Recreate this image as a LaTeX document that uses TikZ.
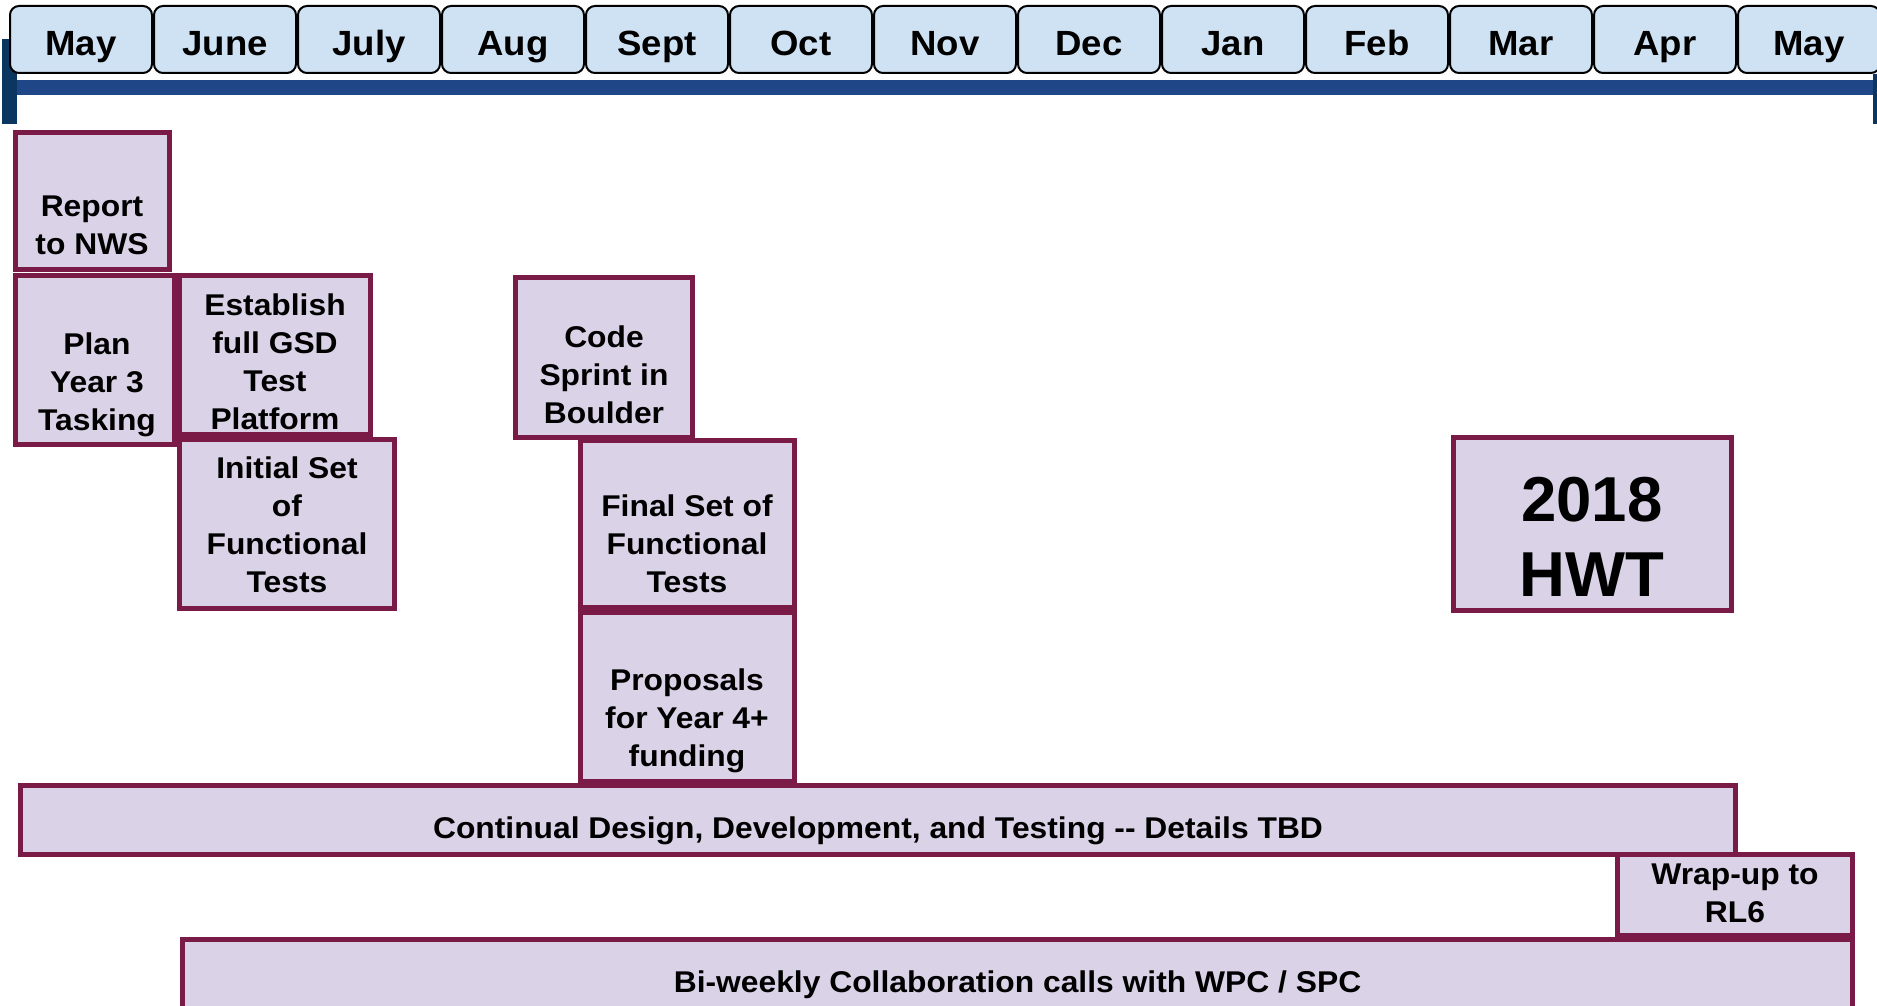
\documentclass[tikz,border=0pt]{standalone}
\usepackage{fontspec}
\newfontfamily\arialf{Liberation Sans}
\newfontfamily\arialw{Liberation Sans}[FakeStretch=1.06]
\newfontfamily\arialm{Liberation Sans}[FakeStretch=1.045]
\definecolor{monthblue}{HTML}{CFE2F3}
\definecolor{boxfill}{HTML}{DAD3E8}
\definecolor{boxborder}{HTML}{7A1A47}
\definecolor{barblue}{HTML}{1F4788}
\definecolor{navyb}{HTML}{0B3660}
\newcommand\zs{\rule[\dimexpr0.358em-0.5\baselineskip\relax]{0pt}{\baselineskip}}
\begin{document}
\begin{tikzpicture}[x=1pt,y=-1pt,
  month/.style={draw=black, line width=2pt, fill=monthblue, rounded corners=9pt,
    minimum width=142pt, minimum height=67pt, inner sep=0pt, outer sep=0pt, anchor=north west},
  mtext/.style={font=\arialm\bfseries\fontsize{35}{42}\selectfont, inner sep=0pt},
  pbox/.style={draw=boxborder, line width=5pt, fill=boxfill, inner sep=0pt, outer sep=0pt, anchor=north west},
  ptext/.style={font=\arialw\bfseries\fontsize{30}{38}\selectfont, align=center, inner sep=0pt},
  bigtext/.style={font=\arialf\bfseries\fontsize{63.5}{75}\selectfont, align=center, inner sep=0pt}]
\useasboundingbox (0,0) rectangle (1877,1006);
\fill[white] (0,0) rectangle (1877,1006);
\clip (0,0) rectangle (1877,1006);
% timeline bars
\fill[navyb] (2,39) rectangle (17,124);
\fill[barblue] (17,80) rectangle (1877,95);
\fill[navyb] (1873,74) rectangle (1877,124);
% months
\foreach \m [count=\i from 0] in {May,June,July,Aug,Sept,Oct,Nov,Dec,Jan,Feb,Mar,Apr,May} {
  \node[month] (m\i) at ({10+144*\i},6) {};
  \node[mtext] (mt\i) at ([yshift=-3pt]m\i.center) {\zs\m};
}
% task boxes
\node[pbox, minimum width=154pt, minimum height=137pt] (report) at (15.5,132.5) {};
\node[ptext] (reportT) at (92,225) {\zs Report\\\zs to NWS};
\node[pbox, minimum width=159pt, minimum height=169pt] (plan) at (15.5,275.5) {};
\node[ptext] (planT) at (97,381.7) {\zs Plan\\\zs Year 3\\\zs Tasking};
\node[pbox, minimum width=191pt, minimum height=159pt] (establish) at (179.5,275.5) {};
\node[ptext] (establishT) at (275,362) {\zs Establish\\\zs full GSD\\\zs Test\\\zs Platform};
\node[pbox, minimum width=215pt, minimum height=169pt] (initial) at (179.5,439.5) {};
\node[ptext] (initialT) at (287,525) {\zs Initial Set\\\zs of\\\zs Functional\\\zs Tests};
\node[pbox, minimum width=177pt, minimum height=160pt] (code) at (515.5,277.5) {};
\node[ptext] (codeT) at (604,375) {\zs Code\\\zs Sprint in\\\zs Boulder};
\node[pbox, minimum width=214pt, minimum height=167pt] (final) at (580.5,440.5) {};
\node[ptext] (finalT) at (687,543.5) {\zs Final Set of\\\zs Functional\\\zs Tests};
\node[pbox, minimum width=214pt, minimum height=169pt] (proposals) at (580.5,612.5) {};
\node[ptext] (proposalsT) at (687,717.6) {\zs Proposals\\\zs for Year 4+\\\zs funding};
\node[pbox, minimum width=278pt, minimum height=173pt] (hwt) at (1453.5,437.5) {};
\node[bigtext] (hwtT) at (1592,536) {\zs 2018\\\zs HWT};
\node[pbox, minimum width=1715pt, minimum height=69pt] (continual) at (20.5,785.5) {};
\node[ptext] (continualT) at (878,828) {\zs Continual Design, Development, and Testing -- Details TBD};
\node[pbox, minimum width=235pt, minimum height=81pt] (wrap) at (1617.5,854.5) {};
\node[ptext] (wrapT) at (1735,893) {\zs Wrap-up to\\\zs RL6};
\node[pbox, minimum width=1670pt, minimum height=90pt] (biweekly) at (182.5,939.5) {};
\node[ptext] (biweeklyT) at (1017.5,981.5) {\zs Bi-weekly Collaboration calls with WPC / SPC};
\end{tikzpicture}
\end{document}
